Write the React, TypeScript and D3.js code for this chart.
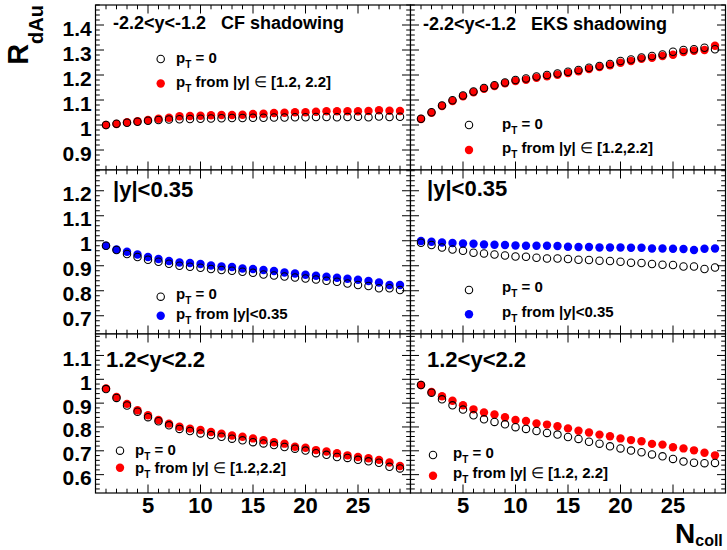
import * as d3 from 'd3';

// N_coll bins
const nColl = [1, 2, 3, 4, 5, 6, 7, 8, 9, 10, 11, 12, 13, 14, 15, 16, 17, 18, 19, 20, 21, 22, 23, 24, 25, 26, 27, 28, 29];

// -2.2<y<-1.2, CF shadowing
const backCfP0 = [1.000, 1.005, 1.009, 1.013, 1.017, 1.020, 1.022, 1.023, 1.024, 1.025, 1.026, 1.027, 1.028, 1.028, 1.029, 1.029, 1.030, 1.030, 1.031, 1.031, 1.032, 1.032, 1.031, 1.032, 1.033, 1.031, 1.034, 1.032, 1.033];
const backCfPt = [1.000, 1.004, 1.011, 1.015, 1.020, 1.025, 1.029, 1.035, 1.036, 1.037, 1.039, 1.040, 1.040, 1.041, 1.044, 1.045, 1.048, 1.049, 1.051, 1.051, 1.053, 1.055, 1.055, 1.055, 1.055, 1.056, 1.059, 1.057, 1.056];
// -2.2<y<-1.2, EKS shadowing
const backEksP0 = [1.025, 1.051, 1.078, 1.099, 1.118, 1.134, 1.148, 1.159, 1.170, 1.180, 1.186, 1.194, 1.200, 1.206, 1.213, 1.220, 1.229, 1.236, 1.244, 1.256, 1.262, 1.270, 1.276, 1.282, 1.293, 1.300, 1.303, 1.309, 1.303];
const backEksPt = [1.024, 1.049, 1.076, 1.096, 1.115, 1.131, 1.145, 1.156, 1.167, 1.176, 1.181, 1.189, 1.195, 1.201, 1.208, 1.215, 1.224, 1.232, 1.239, 1.249, 1.256, 1.265, 1.269, 1.276, 1.281, 1.292, 1.297, 1.300, 1.317];

// |y|<0.35, CF
const midCfP0 = [0.980, 0.963, 0.947, 0.935, 0.924, 0.916, 0.908, 0.900, 0.896, 0.892, 0.887, 0.883, 0.880, 0.876, 0.872, 0.865, 0.861, 0.857, 0.853, 0.849, 0.845, 0.840, 0.836, 0.829, 0.823, 0.819, 0.810, 0.810, 0.803];
const midCfPt = [0.980, 0.965, 0.956, 0.945, 0.935, 0.927, 0.919, 0.913, 0.911, 0.907, 0.901, 0.897, 0.895, 0.889, 0.887, 0.883, 0.879, 0.873, 0.869, 0.864, 0.860, 0.856, 0.852, 0.848, 0.844, 0.839, 0.833, 0.823, 0.823];
// |y|<0.35, EKS
const midEksP0 = [0.992, 0.983, 0.973, 0.965, 0.960, 0.952, 0.949, 0.945, 0.941, 0.937, 0.936, 0.932, 0.929, 0.929, 0.927, 0.924, 0.923, 0.920, 0.919, 0.916, 0.912, 0.911, 0.907, 0.904, 0.903, 0.897, 0.897, 0.887, 0.893];
const midEksPt = [0.999, 0.996, 0.993, 0.991, 0.989, 0.988, 0.985, 0.984, 0.983, 0.981, 0.980, 0.980, 0.980, 0.979, 0.976, 0.975, 0.975, 0.973, 0.973, 0.973, 0.972, 0.972, 0.969, 0.969, 0.968, 0.967, 0.963, 0.968, 0.969];

// 1.2<y<2.2, CF
const fwdCfP0 = [0.959, 0.922, 0.890, 0.864, 0.841, 0.824, 0.807, 0.792, 0.783, 0.773, 0.766, 0.759, 0.751, 0.744, 0.736, 0.731, 0.724, 0.716, 0.709, 0.701, 0.690, 0.683, 0.674, 0.670, 0.662, 0.656, 0.650, 0.633, 0.626];
const fwdCfPt = [0.962, 0.926, 0.897, 0.870, 0.849, 0.829, 0.814, 0.801, 0.793, 0.787, 0.779, 0.772, 0.764, 0.759, 0.752, 0.744, 0.736, 0.730, 0.717, 0.713, 0.703, 0.697, 0.690, 0.681, 0.674, 0.669, 0.662, 0.651, 0.636];
// 1.2<y<2.2, EKS
const fwdEksP0 = [0.976, 0.944, 0.916, 0.891, 0.873, 0.849, 0.832, 0.821, 0.811, 0.799, 0.792, 0.783, 0.775, 0.768, 0.758, 0.750, 0.738, 0.730, 0.719, 0.710, 0.701, 0.694, 0.685, 0.677, 0.666, 0.655, 0.650, 0.648, 0.649];
const fwdEksPt = [0.976, 0.947, 0.929, 0.910, 0.891, 0.874, 0.861, 0.852, 0.841, 0.829, 0.825, 0.815, 0.810, 0.803, 0.794, 0.784, 0.777, 0.768, 0.761, 0.752, 0.745, 0.740, 0.729, 0.726, 0.715, 0.710, 0.702, 0.692, 0.681];

const yTicksTop = [0.9, 1, 1.1, 1.2, 1.3, 1.4];
const yTicksMid = [0.7, 0.8, 0.9, 1, 1.1, 1.2];
const yTicksBot = [0.6, 0.7, 0.8, 0.9, 1, 1.1];
const xTicks = [5, 10, 15, 20, 25];

const FONT = '"Liberation Sans", Arial, Helvetica, sans-serif';

const rows = [
  { top: 5, bottom: 170, domain: [0.82, 1.48], ticks: yTicksTop },
  { top: 170, bottom: 334, domain: [0.627, 1.283], ticks: yTicksMid },
  { top: 334, bottom: 493, domain: [0.523, 1.19], ticks: yTicksBot },
];
const cols = [
  { left: 95.5, right: 410.5 },
  { left: 410.5, right: 725.5 },
];

interface Panel {
  row: number;
  col: number;
  title: string;
  titleX: number;
  titleY: number;
  titleSize: number;
  p0: number[];
  pt: number[];
  color: string;
  ptLabel: [string, string];
  leg: { mx: number; tx: number; y0: number; b0: number; y1: number; b1: number };
}

const panels: Panel[] = [
  { row: 0, col: 0, title: '-2.2<y<-1.2   CF shadowing', titleX: 113, titleY: 29, titleSize: 18, p0: backCfP0, pt: backCfPt, color: '#ff0000', ptLabel: [' from |y| ', ' [1.2, 2.2]'], leg: { mx: 160.7, tx: 176, y0: 59, b0: 62.5, y1: 83.5, b1: 86.5 } },
  { row: 0, col: 1, title: '-2.2<y<-1.2   EKS shadowing', titleX: 423, titleY: 29.5, titleSize: 18, p0: backEksP0, pt: backEksPt, color: '#ff0000', ptLabel: [' from |y| ', ' [1.2,2.2]'], leg: { mx: 469, tx: 502, y0: 125, b0: 129, y1: 150, b1: 152.5 } },
  { row: 1, col: 0, title: '|y|<0.35', titleX: 113, titleY: 197, titleSize: 22, p0: midCfP0, pt: midCfPt, color: '#0000ff', ptLabel: [' from |y|<0.35', ''], leg: { mx: 160.7, tx: 176, y0: 296.7, b0: 298.5, y1: 315.7, b1: 319 } },
  { row: 1, col: 1, title: '|y|<0.35', titleX: 427, titleY: 196, titleSize: 22, p0: midEksP0, pt: midEksPt, color: '#0000ff', ptLabel: [' from |y|<0.35', ''], leg: { mx: 469, tx: 502, y0: 290, b0: 292, y1: 314.3, b1: 316.5 } },
  { row: 2, col: 0, title: '1.2<y<2.2', titleX: 106, titleY: 367, titleSize: 22, p0: fwdCfP0, pt: fwdCfPt, color: '#ff0000', ptLabel: [' from |y| ', ' [1.2,2.2]'], leg: { mx: 120, tx: 135, y0: 450.7, b0: 455, y1: 467.7, b1: 473 } },
  { row: 2, col: 1, title: '1.2<y<2.2', titleX: 427, titleY: 367, titleSize: 22, p0: fwdEksP0, pt: fwdEksPt, color: '#ff0000', ptLabel: [' from |y| ', ' [1.2, 2.2]'], leg: { mx: 433, tx: 453, y0: 455, b0: 458, y1: 475.7, b1: 478 } },
];

const R = 4.2;

function PtLabel({ x, y, parts }: { x: number; y: number; parts: [string, string] }) {
  return (
    <text x={x} y={y} fontSize={15} fontWeight="bold" fontFamily={FONT} style={{ whiteSpace: 'pre' }}>
      p<tspan fontSize={10} dy={5}>T</tspan>
      <tspan dy={-5}>{parts[0]}</tspan>
      {parts[1] !== '' && <tspan fontWeight="normal">∈</tspan>}
      {parts[1] !== '' && <tspan>{parts[1]}</tspan>}
    </text>
  );
}

function PanelView({ p }: { p: Panel }) {
  const row = rows[p.row];
  const col = cols[p.col];
  const x = d3.scaleLinear().domain([0, 30]).range([col.left, col.right]);
  const y = d3.scaleLinear().domain(row.domain).range([row.bottom, row.top]);

  const [d0, d1] = row.domain;
  const yMinor = d3.range(Math.ceil(d0 * 50), Math.floor(d1 * 50) + 1);
  const xMinor = d3.range(1, 30);

  return (
    <g>
      <rect x={col.left} y={row.top} width={col.right - col.left} height={row.bottom - row.top} fill="white" stroke="black" strokeWidth={1.2} />
      {yMinor.map((k) => {
        const yy = y(k / 50);
        const len = k % 5 === 0 ? 8.5 : 4.3;
        return (
          <g key={'y' + k}>
            <line x1={col.left} x2={col.left + len} y1={yy} y2={yy} stroke="black" />
            <line x1={col.right} x2={col.right - len} y1={yy} y2={yy} stroke="black" />
          </g>
        );
      })}
      {xMinor.map((i) => {
        const xx = x(i);
        const len = i % 5 === 0 ? 8.5 : 4.3;
        return (
          <g key={'x' + i}>
            <line x1={xx} x2={xx} y1={row.bottom} y2={row.bottom - len} stroke="black" />
            <line x1={xx} x2={xx} y1={row.top} y2={row.top + len} stroke="black" />
          </g>
        );
      })}
      {p.col === 0 &&
        row.ticks.map((t) => (
          <text key={'yl' + t} x={91.7} y={y(t) + 10.5} textAnchor="end" fontSize={21} fontWeight="bold" fontFamily={FONT}>
            {d3.format('~g')(t)}
          </text>
        ))}
      {p.row === 2 &&
        xTicks.map((t) => (
          <text key={'xl' + t} x={x(t)} y={513} textAnchor="middle" fontSize={22} fontWeight="bold" fontFamily={FONT}>
            {t}
          </text>
        ))}

      <text x={p.titleX} y={p.titleY} fontSize={p.titleSize} fontWeight="bold" fontFamily={FONT} style={{ whiteSpace: 'pre' }}>
        {p.title}
      </text>

      {nColl.map((n, i) => (
        <circle key={'f' + n} cx={x(n)} cy={y(p.pt[i])} r={R} fill={p.color} />
      ))}
      {nColl.map((n, i) => (
        <circle key={'o' + n} cx={x(n)} cy={y(p.p0[i])} r={R - 0.5} fill="none" stroke="black" strokeWidth={1.1} />
      ))}

      <circle cx={p.leg.mx} cy={p.leg.y0} r={R - 0.5} fill="none" stroke="black" strokeWidth={1.1} />
      <PtLabel x={p.leg.tx} y={p.leg.b0} parts={[' = 0', '']} />
      <circle cx={p.leg.mx} cy={p.leg.y1} r={R} fill={p.color} />
      <PtLabel x={p.leg.tx} y={p.leg.b1} parts={p.ptLabel} />
    </g>
  );
}

export default function App() {
  return (
    <svg width={727} height={550} style={{ position: 'absolute', left: 0, top: 0, background: 'white' }}>
      <rect x={0} y={0} width={727} height={550} fill="white" />
      {panels.map((p) => (
        <PanelView key={p.row + '-' + p.col} p={p} />
      ))}
      <text transform="translate(28,5) rotate(-90)" textAnchor="end" fontWeight="bold" fontFamily={FONT}>
        <tspan fontSize={29}>R</tspan>
        <tspan fontSize={20} dy={15}>dAu</tspan>
      </text>
      <text x={675} y={543} fontWeight="bold" fontFamily={FONT}>
        <tspan fontSize={28}>N</tspan>
        <tspan fontSize={16} dy={3}>coll</tspan>
      </text>
    </svg>
  );
}
